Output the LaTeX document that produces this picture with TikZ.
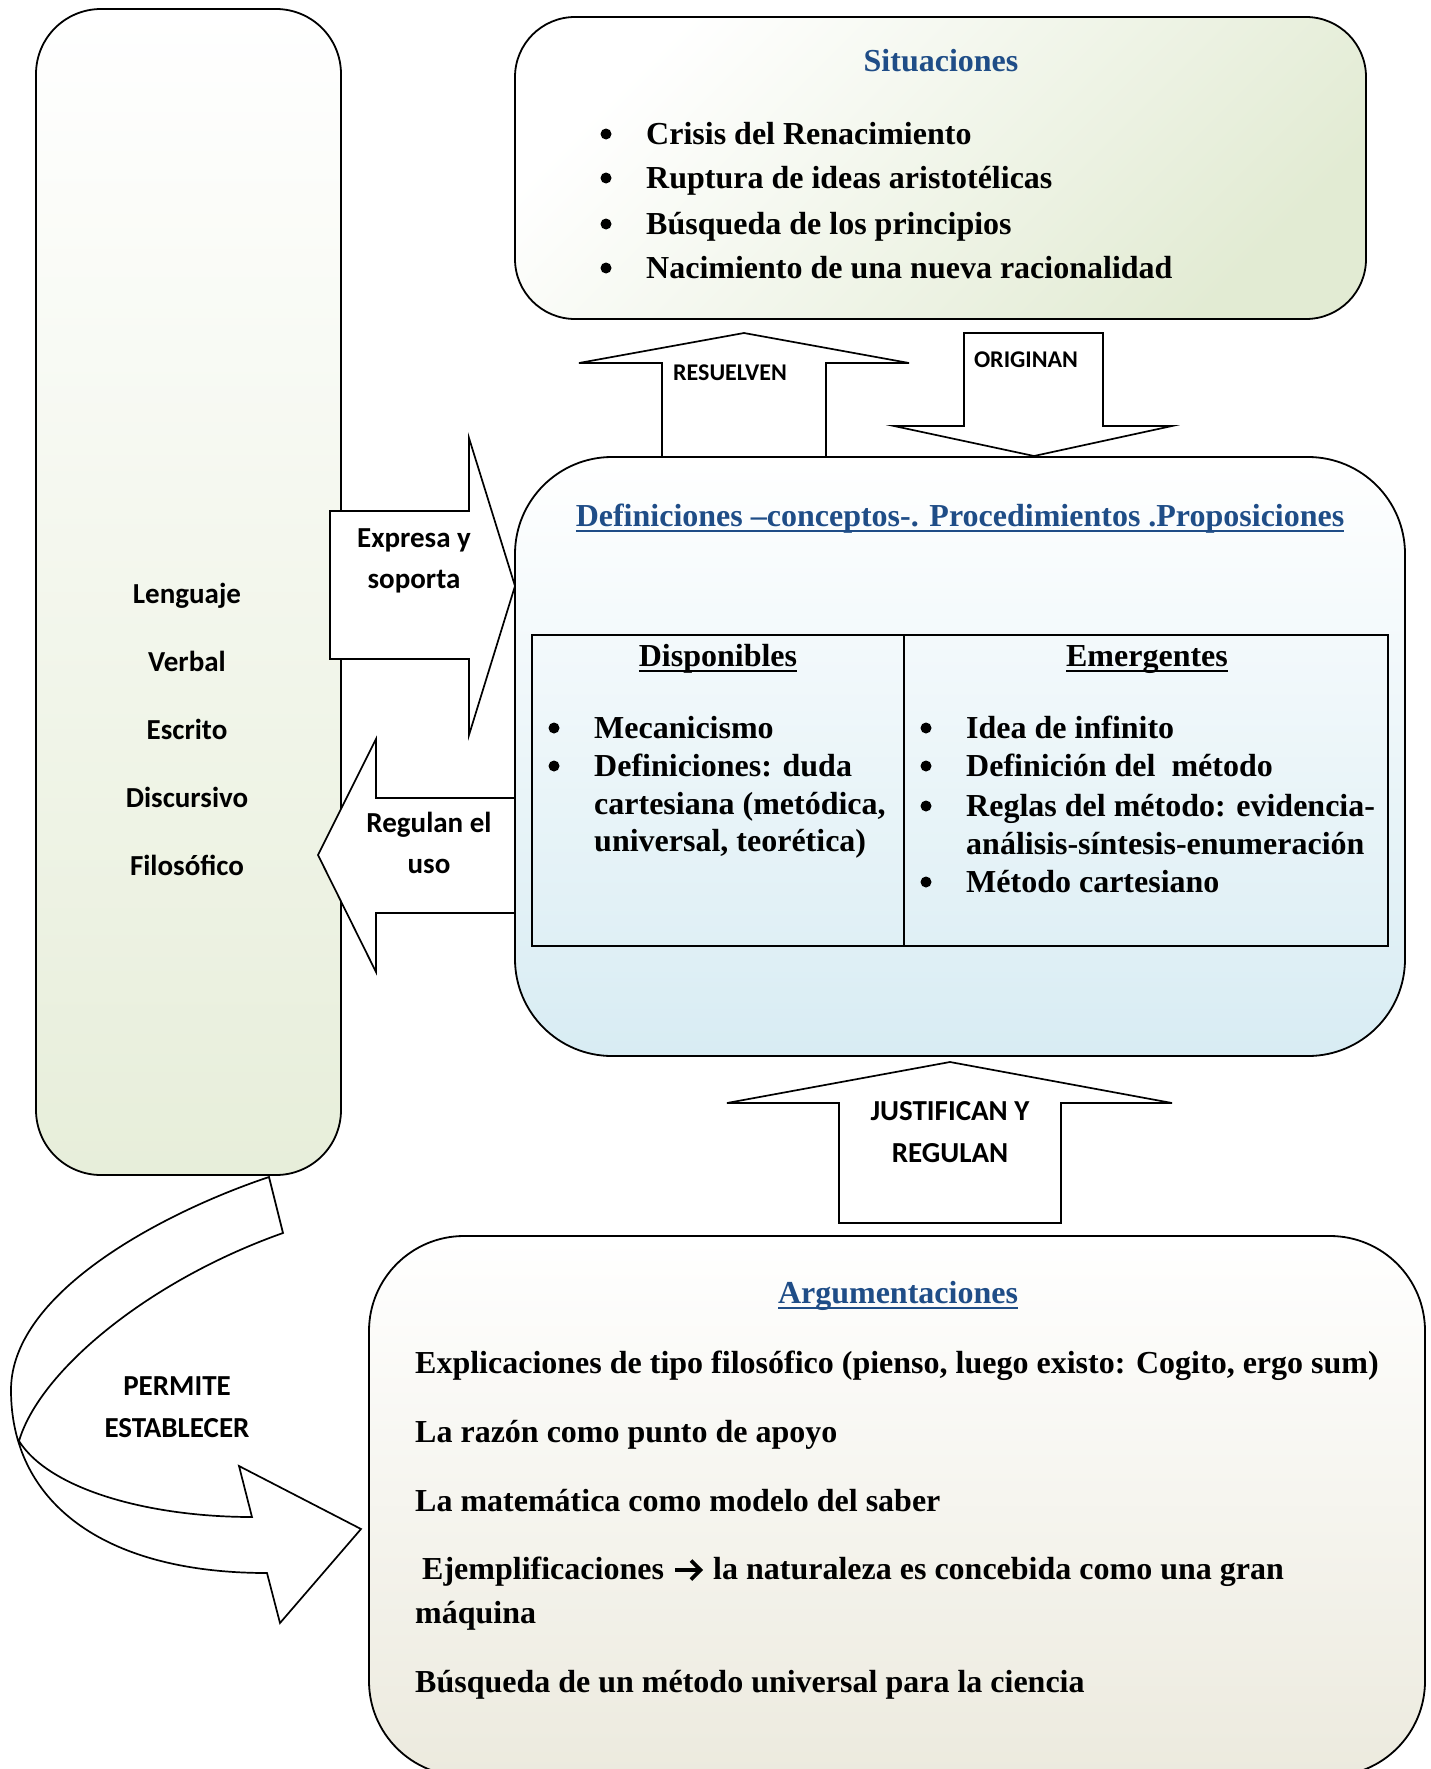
\documentclass[tikz,border=0pt]{standalone}
\usepackage{fontspec}
\setmainfont{Liberation Serif}
\newfontfamily\lblfamily{Carlito}
\definecolor{titleblue}{RGB}{31,77,135}
\definecolor{lgreen}{RGB}{231,238,218}
\definecolor{sgreen}{RGB}{226,235,211}
\definecolor{lblue}{RGB}{216,236,243}
\definecolor{lbeige}{RGB}{236,234,222}
\newcommand\serifbig{\fontsize{32}{38}\selectfont\bfseries}
\newcommand\lblbig{\lblfamily\fontsize{29}{35}\selectfont\bfseries}
\newcommand\lblsmall{\lblfamily\fontsize{24}{29}\selectfont\bfseries}
\newcommand\ulbar[1]{\setbox0\hbox{#1}\rlap{\rule[-6pt]{\wd0}{2.5pt}}\box0}
\begin{document}
\begin{tikzpicture}[x=1pt,y=-1pt,
  box/.style={draw, rectangle, inner sep=0pt, line width=1.8pt},
  cell/.style={draw, rectangle, inner sep=0pt, line width=1.8pt},
  blockarrow/.style={draw, fill=white, line width=1.7pt, line join=miter},
  serif/.style={font=\serifbig, inner sep=0pt, text height=22pt, text depth=7pt, yshift=-3.5pt},
  line/.style={serif, anchor=west},
  bul/.style={circle, fill=black, inner sep=0pt, minimum size=11pt},
  lbl/.style={font=\lblbig, inner sep=0pt, text height=20pt, text depth=6pt, yshift=-3pt},
  lbls/.style={font=\lblsmall, inner sep=0pt, text height=17pt, text depth=5pt, yshift=-2pt},
  glyph/.style={line width=3.6pt}]
\useasboundingbox (0,0) rectangle (1430,1769);
\fill[white] (0,0) rectangle (1430,1769);

% boxes
\node[box, rounded corners=65pt, top color=white, bottom color=lgreen,
  minimum width=305pt, minimum height=1166pt] (lang) at (188.5,592) {};
\node[box, rounded corners=60pt, top color=white, bottom color=sgreen, shading angle=45,
  minimum width=851pt, minimum height=302pt] (sit) at (940.5,168) {};
\node[box, rounded corners=97pt, top color=white, bottom color=lblue,
  minimum width=890pt, minimum height=599pt] (def) at (960,756.5) {};
\node[box, rounded corners=95pt, top color=white, bottom color=lbeige,
  minimum width=1056pt, minimum height=540pt] (arg) at (897,1506) {};

% table
\node[cell, minimum width=372pt, minimum height=311pt] (disp) at (718,790.5) {};
\node[cell, minimum width=484pt, minimum height=311pt] (emer) at (1146,790.5) {};

% block arrows
\draw[blockarrow] (662,457) -- (662,363) -- (579,363) -- (744,333) -- (909,363)
  -- (826,363) -- (826,457) -- cycle;
\draw[blockarrow] (964,333) -- (1103,333) -- (1103,426) -- (1172,426) -- (1034,456)
  -- (894,426) -- (964,426) -- cycle;
\draw[blockarrow] (330,511) -- (469,511) -- (469,438) -- (515,586) -- (469,735)
  -- (469,659) -- (330,659) -- cycle;
\draw[blockarrow] (515,798) -- (376,798) -- (376,739) -- (318,855) -- (376,972)
  -- (376,913) -- (515,913) -- cycle;
\draw[blockarrow] (839,1223) -- (839,1103) -- (727,1103) -- (950,1062) -- (1172,1103)
  -- (1061,1103) -- (1061,1223) -- cycle;
\draw[blockarrow] (269,1177) .. controls (170,1210) and (11,1290) .. (11,1390)
  .. controls (11,1500) and (100,1573) .. (267,1573)
  -- (280,1623) -- (361,1529) -- (239,1466) -- (252,1517)
  .. controls (150,1517) and (50,1490) .. (19,1441)
  .. controls (40,1370) and (150,1280) .. (283,1233) -- cycle;

% arrow labels
\node[lbls] (resuelven) at (730,372) {RESUELVEN};
\node[lbls] (originan) at (1026,359) {ORIGINAN};
\node[lbl] (expresa1) at (414,537) {Expresa y};
\node[lbl] (expresa2) at (414,578) {soporta};
\node[lbl] (regulan1) at (429,822) {Regulan el};
\node[lbl] (regulan2) at (429,863) {uso};
\node[lbl] (justif1) at (950,1110) {JUSTIFICAN Y};
\node[lbl] (justif2) at (950,1152) {REGULAN};
\node[lbl] (permite1) at (177,1385) {PERMITE};
\node[lbl] (permite2) at (177,1427) {ESTABLECER};

% left box texts
\node[lbl] (l1) at (187,593) {Lenguaje};
\node[lbl] (l2) at (187,661) {Verbal};
\node[lbl] (l3) at (187,729) {Escrito};
\node[lbl] (l4) at (187,797) {Discursivo};
\node[lbl] (l5) at (187,865) {Filosófico};

% situaciones
\node[serif, text=titleblue] (sittitle) at (941,60) {Situaciones};
\node[bul] (sb1) at (606,134) {};
\node[line] (s1) at (646,133) {Crisis del Renacimiento};
\node[bul] (sb2) at (606,178) {};
\node[line] (s2) at (646,177) {Ruptura de ideas aristotélicas};
\node[bul] (sb3) at (606,224) {};
\node[line] (s3) at (646,223) {Búsqueda de los principios};
\node[bul] (sb4) at (606,268) {};
\node[line] (s4) at (646,267) {Nacimiento de una nueva racionalidad};

% definiciones
\node[serif, text=titleblue] (deftitle) at (960,515) {\ulbar{Definiciones –conceptos-. Procedimientos .Proposiciones}};
\node[serif] (disph) at (718,655) {\ulbar{Disponibles}};
\node[serif] (emerh) at (1147,655) {\ulbar{Emergentes}};
\node[bul] (db1) at (554,728) {};
\node[line] (d1) at (594,727) {Mecanicismo};
\node[bul] (db2) at (554,766) {};
\node[line] (d2) at (594,765) {Definiciones: duda};
\node[line] (d3) at (594,803) {cartesiana (metódica,};
\node[line] (d4) at (594,840) {universal, teorética)};
\node[bul] (eb1) at (926,728) {};
\node[line] (e1) at (966,727) {Idea de infinito};
\node[bul] (eb2) at (926,766) {};
\node[line] (e2) at (966,765) {Definición del\ \ método};
\node[bul] (eb3) at (926,806) {};
\node[line] (e3) at (966,805) {Reglas del método: evidencia-};
\node[line] (e4) at (966,843) {análisis-síntesis-enumeración};
\node[bul] (eb4) at (926,882) {};
\node[line] (e5) at (966,881) {Método cartesiano};

% argumentaciones
\node[serif, text=titleblue] (argtitle) at (898,1292) {\ulbar{Argumentaciones}};
\node[line] (a1) at (415,1362) {Explicaciones de tipo filosófico (pienso, luego existo: Cogito, ergo sum)};
\node[line] (a2) at (415,1431) {La razón como punto de apoyo};
\node[line] (a3) at (415,1500) {La matemática como modelo del saber};
\node[line] (a4) at (422,1568) {Ejemplificaciones};
\node[line] (a4b) at (713,1568) {la naturaleza es concebida como una gran};
\draw[glyph, line cap=butt] (675,1570) -- (700,1570);
\draw[glyph, line join=miter] (691,1560.5) -- (700.5,1570) -- (691,1579.5);
\node[line] (a5) at (415,1612) {máquina};
\node[line] (a6) at (415,1681) {Búsqueda de un método universal para la ciencia};
\end{tikzpicture}
\end{document}
